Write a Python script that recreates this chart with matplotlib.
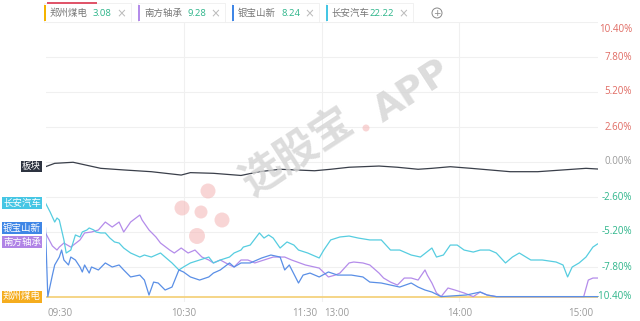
import matplotlib
matplotlib.use("Agg")
import matplotlib.pyplot as plt
import matplotlib.transforms as mtransforms
from matplotlib.patches import Rectangle, Circle

plt.rcParams['font.family'] = ['Noto Sans CJK SC', 'DejaVu Sans']

# ---------------- data ----------------
names = ["郑州煤电", "南方轴承", "银宝山新", "长安汽车"]
prices = ["3.08", "9.28", "8.24", "22.22"]
board_name = "板块"

xtick_pos = [0, 60, 120, 180, 240]
xtick_labels = ["09:30", "10:30", "11:30", "13:00", "14:00", "15:00"]
ytick_vals = [10.4, 7.8, 5.2, 2.6, 0.0, -2.6, -5.2, -7.8, -10.4]

board_t = [0, 4, 12, 24, 34, 46, 59, 63, 73, 85, 93, 102, 117, 124, 132, 145,
           153, 162, 168, 176, 185, 202, 214, 225, 235, 240]
board_v = [-0.35, -0.10, -0.02, -0.47, -0.59, -0.72, -0.97, -0.79, -0.84, -1.00,
           -0.72, -0.54, -0.65, -0.54, -0.39, -0.30, -0.39, -0.54, -0.47, -0.35,
           -0.47, -0.72, -0.72, -0.59, -0.47, -0.52]

changan_t = [0, 2, 4, 5, 6, 8, 9, 11, 13, 15, 16, 18, 19, 21, 22, 24, 26, 28, 30,
             32, 34, 37, 41, 43, 46, 50, 52, 55, 58, 60, 63, 67, 71, 73, 76, 80,
             82, 85, 86, 89, 93, 95, 97, 99, 102, 105, 108, 110, 114, 119, 121,
             124, 128, 132, 136, 141, 146, 150, 154, 159, 163, 168, 170, 173,
             176, 179, 182, 186, 189, 193, 196, 200, 203, 206, 211, 216, 222,
             225, 227, 229, 232, 235, 238, 240]
changan_v = [-3.05, -3.71, -4.46, -4.16, -4.31, -5.79, -6.76, -6.54, -5.42, -5.57,
             -5.20, -5.05, -4.90, -5.05, -5.20, -5.27, -5.27, -5.65, -5.94, -6.02,
             -6.39, -6.76, -7.06, -6.91, -7.06, -6.76, -7.06, -7.50, -8.02, -7.80,
             -7.50, -7.28, -7.06, -7.50, -7.28, -7.06, -6.76, -6.54, -6.32, -6.17,
             -5.27, -5.65, -5.42, -5.65, -6.39, -5.94, -6.17, -6.54, -6.76, -7.13,
             -6.54, -5.79, -5.57, -5.50, -5.65, -5.79, -5.79, -6.54, -6.54, -6.91,
             -7.06, -6.39, -7.06, -6.91, -6.17, -6.17, -6.54, -6.69, -6.54, -6.54,
             -6.76, -7.50, -7.06, -6.76, -7.28, -7.28, -7.43, -7.65, -8.54, -7.80,
             -7.50, -7.06, -6.32, -6.09]

yinbao_t = [0, 1, 3, 4, 6, 7, 8, 10, 11, 13, 15, 16, 17, 19, 20, 23, 26, 29, 32,
            34, 37, 41, 43, 45, 47, 49, 52, 55, 58, 60, 63, 67, 71, 73, 76, 80,
            82, 85, 89, 94, 98, 102, 104, 106, 110, 112, 115, 119, 123, 127, 133,
            138, 141, 146, 150, 154, 159, 162, 165, 168, 172, 183, 189, 192, 196,
            240]
yinbao_v = [-4.90, -10.0, -8.40, -7.65, -7.06, -6.54, -7.28, -7.65, -7.06, -7.28,
            -7.80, -8.17, -7.65, -8.25, -7.80, -8.02, -7.50, -7.80, -7.65, -8.02,
            -8.54, -8.40, -8.77, -9.88, -8.92, -8.99, -9.51, -9.29, -8.02, -8.17,
            -8.54, -8.77, -8.54, -8.25, -8.02, -7.50, -7.80, -7.50, -7.50, -7.13,
            -6.91, -7.06, -8.02, -7.65, -8.99, -8.40, -8.25, -8.54, -8.17, -8.40,
            -8.40, -8.54, -8.92, -8.99, -9.14, -9.29, -8.99, -9.29, -9.51, -9.66,
            -10.0, -9.88, -9.66, -9.88, -10.0, -10.0]

nanfang_t = [0, 3, 5, 6, 8, 11, 15, 17, 20, 23, 26, 29, 32, 34, 37, 41, 42, 45,
             48, 50, 54, 56, 59, 62, 65, 68, 71, 73, 76, 80, 82, 85, 88, 91, 95,
             99, 104, 107, 113, 119, 123, 126, 128, 132, 134, 138, 141, 145, 147,
             150, 153, 156, 159, 162, 165, 166, 168, 170, 172, 175, 178, 182, 186,
             189, 192, 196, 234, 236, 238, 240]
nanfang_v = [-5.27, -6.24, -6.54, -6.32, -6.02, -6.32, -5.79, -5.27, -5.20, -5.05,
             -4.46, -4.83, -4.46, -5.20, -4.46, -3.94, -4.31, -5.05, -5.57, -6.02,
             -6.54, -6.76, -6.39, -6.76, -6.54, -7.06, -7.28, -7.50, -7.28, -7.65,
             -7.80, -7.28, -7.28, -7.50, -7.28, -7.06, -7.06, -7.28, -7.65, -7.88,
             -8.54, -8.40, -8.25, -7.50, -7.43, -7.50, -7.65, -8.25, -8.62, -8.92,
             -9.14, -8.62, -8.62, -8.77, -8.02, -8.40, -8.99, -9.73, -10.0, -9.36,
             -9.51, -9.73, -10.0, -9.66, -9.88, -10.0, -10.0, -8.77, -8.62, -8.62]

zhengzhou_t = [0, 240]
zhengzhou_v = [-10.0, -10.0]

# ---------------- styling ----------------
W, H = 640, 321
fig = plt.figure(figsize=(W / 100, H / 100), dpi=100)
fig.patch.set_facecolor("white")

def fx(px):
    return px / W

def fy(py):
    return 1 - py / H

def circ(px, py, r, **kw):
    # circle in pixel units (true circle)
    c = Circle((px / 100, (H - py) / 100), r / 100, transform=fig.dpi_scale_trans, **kw)
    fig.patches.append(c)

ax_l, ax_r, ax_t, ax_b = 45.5, 597.5, 22, 302
ax = fig.add_axes([fx(ax_l), fy(ax_b), fx(ax_r - ax_l), (ax_b - ax_t) / H])
ax.set_xlim(0, 240)
ax.set_ylim(-10.4, 10.4)
for s in ax.spines.values():
    s.set_visible(False)
ax.set_xticks([])
ax.set_yticks([])

grid_c = "#f0f0f0"
for v in ytick_vals:
    ax.axhline(v, color=grid_c, lw=0.8, zorder=0)
for t in xtick_pos[1:-1]:
    ax.axvline(t, color=grid_c, lw=0.8, zorder=0)

c_board = "#3a3f4a"
c_cyan = "#56cde0"
c_blue = "#5a8fe6"
c_purple = "#b48cea"
c_orange = "#f5d27e"

ax.plot(board_t, board_v, color=c_board, lw=0.9, zorder=5)
ax.plot(changan_t, changan_v, color=c_cyan, lw=0.9, zorder=4)
ax.plot(nanfang_t, nanfang_v, color=c_purple, lw=0.9, zorder=3)
ax.plot(yinbao_t, yinbao_v, color=c_blue, lw=0.9, zorder=4)
ax.plot(zhengzhou_t, zhengzhou_v, color=c_orange, lw=1.3, zorder=2)

# right y tick labels
ytrans = mtransforms.blended_transform_factory(fig.transFigure, ax.transData)
for v in ytick_vals:
    if v > 0:
        col = "#e06a62"
    elif v < 0:
        col = "#2db58a"
    else:
        col = "#9a9a9a"
    va = "center"
    off = 0
    if v == ytick_vals[0]:
        va = "top"
        off = -2
    elif v == ytick_vals[-1]:
        va = "bottom"
        off = 0
    tr = ytrans + mtransforms.ScaledTranslation(0, off / 100, fig.dpi_scale_trans)
    ax.text(fx(632), v, f"{v:.2f}%", transform=tr, ha="right", va=va,
            fontsize=7, color=col, family=["Open Sans", "DejaVu Sans"])

# x tick labels
xtrans = mtransforms.blended_transform_factory(ax.transData, fig.transFigure)
xpos = [0, 60, 120, 120, 180, 240]
xha = ["left", "center", "right", "left", "center", "right"]
xoff = [2, 0, -4, 3, 0, -4]
for p, lab, ha, off in zip(xpos, xtick_labels, xha, xoff):
    tr = xtrans + mtransforms.ScaledTranslation(off / 100, 0, fig.dpi_scale_trans)
    fig.text(p, fy(313), lab, transform=tr, ha=ha, va="center", fontsize=7,
             color="#9a9a9a", family=["Open Sans", "DejaVu Sans"])

# left labels at start values
ltrans = mtransforms.blended_transform_factory(fig.transFigure, ax.transData)
label_items = [
    (board_name, board_v[0], "#2d3340"),
    (names[3], changan_v[0], "#45c6e4"),
    (names[2], yinbao_v[0], "#3f86e6"),
    (names[1], nanfang_v[0], "#b184e6"),
    (names[0], zhengzhou_v[0], "#f5ad1f"),
]
min_gap = 14 / ((ax_b - ax_t) / 20.8)
placed = []
for lab, v, col in sorted(label_items, key=lambda r: -r[1]):
    if placed and placed[-1] - v < min_gap:
        v = placed[-1] - min_gap
    placed.append(v)
    ax.text(fx(41), v, lab, transform=ltrans, ha="right", va="center",
            fontsize=6.8, color="white",
            bbox=dict(boxstyle="square,pad=0.12", fc=col, ec="none"))

# watermark
fig.text(fx(298), fy(152), "选股宝", rotation=33, ha="center", va="center",
         fontsize=30, color="#d4d4d4", alpha=0.8, fontweight="bold", zorder=10)
fig.text(fx(413), fy(92), "APP", rotation=33, ha="center", va="center",
         fontsize=27, color="#d4d4d4", alpha=0.8, fontweight="bold", zorder=10,
         family=["DejaVu Sans"])
for (cx, cy, r) in [(182, 208, 7.5), (208, 191, 7.5), (201, 212, 6.5),
                    (222, 220, 7.5), (197, 236, 8), (366, 128, 3.5)]:
    circ(cx, cy, r, fc="#f4b4b4", ec="none", alpha=0.55, zorder=9)

# legend items on top
leg_x = [44, 138, 232, 326]
leg_w = [87, 87, 87, 87]
leg_bar = ["#f5b400", "#b48cea", "#3f86e6", "#45c6e4"]
for i in range(4):
    x0 = leg_x[i]
    fig.patches.append(Rectangle((fx(x0), fy(22)), fx(leg_w[i]), 19 / H,
                                 transform=fig.transFigure, fc="white",
                                 ec="#efefef", lw=0.6))
    fig.patches.append(Rectangle((fx(x0), fy(21)), fx(1.6), 16 / H,
                                 transform=fig.transFigure, fc=leg_bar[i], ec="none"))
    fig.text(fx(x0 + 6), fy(13.5), names[i], ha="left", va="center", fontsize=6.8,
             color="#777777")
    fig.text(fx(x0 + 49 if i < 3 else x0 + 44), fy(13.5), prices[i], ha="left",
             va="center", fontsize=6.8, color="#2db58a",
             family=["Open Sans", "DejaVu Sans"])
    fig.text(fx(x0 + 77), fy(13.5), "×", ha="center", va="center", fontsize=8.5,
             color="#bbbbbb", family=["DejaVu Sans"])
fig.patches.append(Rectangle((fx(47), fy(4)), fx(50), 1.8 / H,
                             transform=fig.transFigure, fc="#e0556a", ec="none"))
circ(437, 13, 5, fc="white", ec="#888888", lw=0.7)
fig.text(fx(437), fy(13), "+", ha="center", va="center", fontsize=6.5,
         color="#888888", family=["DejaVu Sans"])

fig.savefig("out.png", dpi=100)
